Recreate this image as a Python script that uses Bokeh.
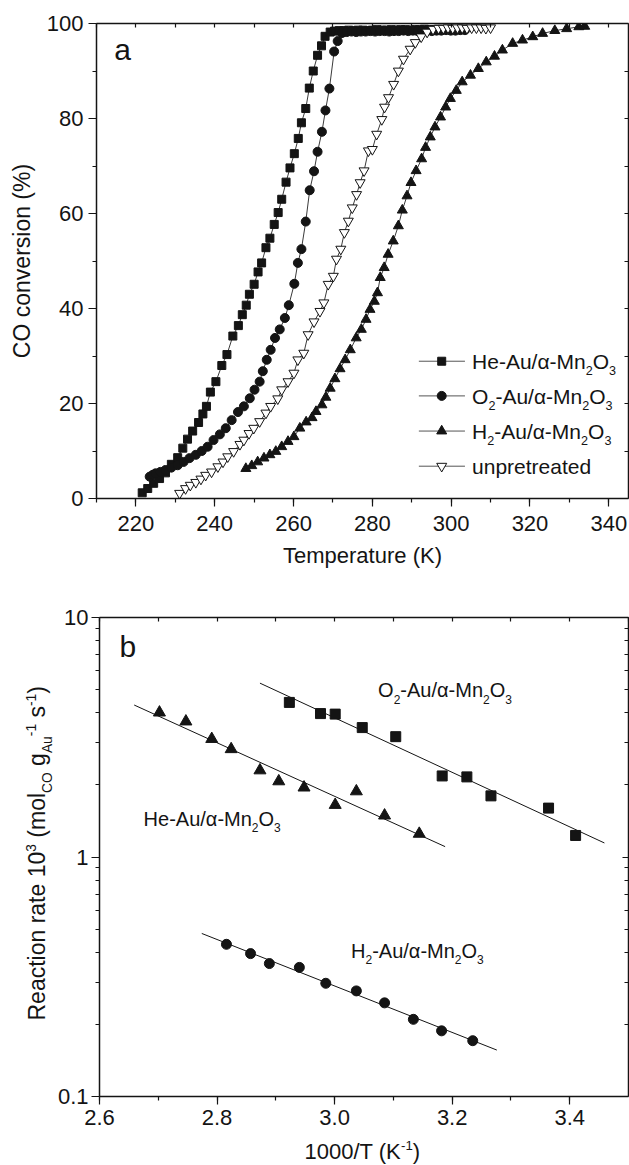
import numpy as np
from bokeh.plotting import figure
from bokeh.layouts import column, row
from bokeh.models import (Range1d, LinearAxis, LogAxis, SingleIntervalTicker, FixedTicker,
                          CustomJSTickFormatter, ColumnDataSource)
from bokeh.embed import file_html
from bokeh.resources import INLINE
from bokeh.core.properties import value

# ---------------- panel (a): CO conversion vs temperature ----------------
he_T = [221.6, 223.0, 224.5, 226.0, 227.5, 229.0, 230.6, 231.9, 233.1, 234.4, 235.9, 237.0,
        237.9, 238.9, 240.3, 241.8, 243.1, 244.6, 246.0, 247.0, 248.0, 248.8, 250.0, 251.0,
        251.9, 253.0, 254.0, 255.1, 256.1, 257.0, 258.1, 259.1, 260.2, 261.2, 262.0, 263.1,
        264.0, 265.0, 266.1, 267.1, 268.0, 269.3, 270.4, 271.6, 272.8, 274.0, 275.2, 276.4,
        277.6, 278.8, 280.0, 281.2, 282.4, 283.6, 284.8, 286.0, 287.2, 288.4, 289.6, 290.8,
        292.0, 293.2, 294.4, 295.6, 296.8, 298.0, 299.2]
he_C = [1.2, 2.1, 3.2, 4.2, 5.4, 7.2, 8.6, 10.6, 12.5, 14.2, 16.0, 17.8,
        19.4, 22.4, 24.6, 28.0, 30.3, 34.2, 36.4, 38.7, 40.7, 43.0, 45.1, 47.7,
        49.6, 52.8, 54.8, 57.7, 60.2, 63.0, 66.6, 69.6, 72.6, 75.8, 79.1, 82.1,
        86.4, 90.0, 93.3, 95.3, 97.3, 98.2, 98.4, 98.5, 98.5, 98.6, 98.5, 98.6,
        98.6, 98.5, 98.6, 98.7, 98.6, 98.6, 98.7, 98.6, 98.7, 98.7, 98.6, 98.7,
        98.7, 98.8, 98.7, 98.7, 98.8, 98.7, 98.8]

o2_T = [223.5, 224.3, 225.0, 226.2, 227.5, 229.0, 230.6, 232.1, 233.6, 235.2, 236.7, 238.2,
        239.7, 241.3, 242.8, 244.3, 245.9, 247.4, 248.9, 250.1, 251.4, 252.2, 253.2, 254.2,
        255.3, 256.5, 257.8, 258.8, 260.2, 261.1, 262.0, 263.1, 264.1, 265.2, 266.1, 267.2,
        268.1, 269.1, 270.3, 271.2, 272.3, 273.5, 274.7, 275.9, 277.1, 278.3, 279.5, 280.7,
        281.9, 283.1, 284.3, 285.5, 286.7, 287.9, 289.1, 290.3, 291.5, 292.7, 293.9, 295.1,
        296.3, 297.5, 298.7, 299.9, 301.1, 302.3, 303.5]
o2_C = [4.6, 5.0, 5.3, 5.6, 6.0, 6.5, 7.0, 7.7, 8.5, 9.2, 10.0, 10.9,
        12.3, 13.5, 14.8, 16.5, 18.2, 19.4, 21.1, 22.9, 24.6, 26.8, 29.2, 31.3,
        33.8, 35.6, 38.0, 40.7, 45.2, 49.6, 52.5, 58.3, 64.9, 68.9, 73.0, 77.2,
        81.7, 86.3, 94.1, 96.3, 98.0, 98.2, 98.3, 98.2, 98.3, 98.3, 98.4, 98.3,
        98.4, 98.4, 98.3, 98.4, 98.4, 98.5, 98.4, 98.5, 98.4, 98.5, 98.5, 98.4,
        98.5, 98.5, 98.6, 98.5, 98.5, 98.6, 98.6]

h2_T = [247.9, 249.4, 250.9, 252.5, 254.0, 255.5, 257.0, 258.6, 260.1, 261.6, 263.2, 264.7,
        265.7, 267.2, 268.2, 269.3, 270.5, 271.8, 273.1, 274.4, 275.9, 277.2, 278.4, 279.4,
        280.5, 281.3, 282.0, 283.0, 284.0, 285.3, 286.6, 287.6, 288.8, 289.8, 291.1, 292.5,
        293.5, 294.7, 295.9, 297.3, 298.6, 299.8, 301.3, 302.8, 304.9, 306.9, 308.9, 311.0,
        313.0, 315.6, 318.1, 320.7, 323.2, 326.3, 329.3, 332.4, 333.9]
h2_C = [6.3, 6.9, 7.7, 8.5, 9.2, 9.9, 10.9, 12.0, 13.0, 14.8, 16.1, 17.0,
        18.3, 19.7, 21.3, 23.2, 25.2, 27.3, 29.2, 31.3, 33.8, 35.6, 37.7, 39.8,
        41.5, 43.3, 46.5, 48.6, 51.4, 54.2, 57.4, 60.7, 63.7, 66.5, 69.0, 71.5,
        73.9, 76.1, 78.2, 80.3, 82.4, 84.2, 85.9, 87.7, 89.1, 90.5, 91.9, 93.1,
        94.4, 95.8, 96.5, 97.2, 97.9, 98.5, 98.9, 99.3, 99.4]

un_T = [231.1, 232.6, 233.8, 235.2, 236.5, 237.7, 239.2, 240.8, 242.1, 243.3, 244.8, 246.4,
        247.4, 248.7, 249.9, 251.4, 253.0, 254.2, 256.0, 257.0, 258.6, 260.1, 261.1, 262.6,
        263.7, 265.2, 266.7, 267.7, 268.8, 270.1, 270.9, 272.0, 272.9, 273.9, 274.9, 276.0,
        276.9, 277.9, 279.0, 280.0, 281.1, 282.4, 283.1, 284.1, 285.4, 286.6, 287.9, 289.6,
        290.9, 292.4, 293.9, 295.4, 296.8, 298.0, 299.2, 300.4, 301.6, 302.8, 304.0, 305.2,
        306.4, 307.6, 308.8, 310.0]
un_C = [1.1, 2.1, 2.8, 3.4, 4.1, 4.9, 5.6, 6.7, 7.7, 8.8, 9.9, 11.4,
        12.3, 13.7, 14.8, 16.2, 18.0, 19.4, 21.0, 22.9, 24.6, 26.4, 29.2, 30.6,
        34.5, 37.2, 39.4, 41.2, 45.1, 46.8, 50.4, 52.5, 56.0, 58.4, 61.2, 64.0,
        66.5, 69.0, 73.2, 73.5, 76.7, 79.8, 82.4, 84.4, 87.2, 90.0, 92.5, 94.6,
        96.0, 97.2, 98.2, 98.8, 99.0, 99.0, 99.1, 99.0, 99.1, 99.1, 99.0, 99.1,
        99.1, 99.1, 99.0, 99.1]

# ---------------- panel (b): Arrhenius data ----------------
o2_invT = [2.923, 2.976, 3.001, 3.047, 3.104, 3.183, 3.225, 3.266, 3.364, 3.410]
o2_rate = [4.42, 3.97, 3.95, 3.47, 3.18, 2.18, 2.16, 1.80, 1.60, 1.23]
he_invT = [2.702, 2.747, 2.791, 2.824, 2.873, 2.905, 2.948, 3.001, 3.037, 3.085, 3.144]
he_rate = [4.01, 3.68, 3.11, 2.82, 2.30, 2.07, 1.95, 1.65, 1.88, 1.49, 1.25]
h2_invT = [2.816, 2.857, 2.889, 2.940, 2.985, 3.037, 3.085, 3.134, 3.182, 3.235]
h2_rate = [0.432, 0.395, 0.359, 0.346, 0.297, 0.276, 0.246, 0.210, 0.188, 0.171]
# spans over which the fitted lines are drawn
o2_fit_span = [2.873, 3.459]
he_fit_span = [2.659, 3.188]
h2_fit_span = [2.774, 3.276]

FONT = "Liberation Sans"
INK = "#141414"
LINE = "#3a3a3a"

# Arial-compatible advance widths (1/1000 em) used to place sub/superscripts
ADV = {" ": 278, "(": 333, ")": 333, "-": 333, "/": 278, ".": 278, "%": 889,
       "A": 667, "C": 722, "H": 722, "K": 667, "M": 833, "O": 778, "R": 722, "T": 611,
       "a": 556, "c": 500, "e": 556, "g": 556, "i": 222, "l": 222, "m": 833, "n": 556,
       "o": 556, "p": 556, "r": 333, "s": 500, "t": 278, "u": 556, "d": 556, "α": 578}
for _d in "0123456789":
    ADV[_d] = 556

# the text glyph sits its baseline this fraction of an em below the anchor
BASE_DROP = 0.35


def _w(txt, fs):
    return sum(ADV.get(c, 556) for c in txt) * fs / 1000.0


def rich(parts, size, small=0.6):
    """Split a label into (text, advance, baseline shift, font size) pieces.
    Edge spaces become advances, since SVG text drops them."""
    pieces, pos = [], 0.0
    for txt, kind in parts:
        fs = size * small if kind else size
        shift = {"": 0.0, "sub": 0.30 * size, "sup": -0.42 * size}[kind]
        shift -= BASE_DROP * fs
        core = txt.strip(" ")
        lead = len(txt) - len(txt.lstrip(" "))
        trail = len(txt) - len(txt.rstrip(" "))
        pos += _w(" " * lead, fs)
        pieces.append((core, pos, shift, fs))
        pos += _w(core, fs) + _w(" " * trail, fs)
    return pieces, pos


def draw_rich(p, x, y, parts, size, dy0=0.0, rotated=False):
    """Draw a label with sub/superscripts as text pieces offset in screen pixels."""
    pieces, _ = rich(parts, size)
    if rotated:   # reads bottom-to-top; baseline shifts go sideways
        dx = [s for _, _, s, _ in pieces]
        dy = [-d for _, d, _, _ in pieces]
    else:
        dx = [d for _, d, _, _ in pieces]
        dy = [s + dy0 for _, _, s, _ in pieces]
    src = ColumnDataSource(dict(
        x=[x] * len(pieces), y=[y] * len(pieces),
        text=[t for t, _, _, _ in pieces], dx=dx, dy=dy,
        fs=["%.1fpx" % f for _, _, _, f in pieces]))
    p.text(x="x", y="y", text="text", x_offset="dx", y_offset="dy",
           text_font_size="fs", source=src, text_font=value(FONT), text_color=INK,
           text_baseline="alphabetic", text_align="left",
           angle=np.pi / 2 if rotated else 0.0)


def style_axis(ax, tick_out=8, minor_out=4, tick_in=0, minor_in=0, labels=True):
    ax.axis_line_color = INK
    ax.axis_line_width = 1.5
    ax.major_tick_line_color = INK
    ax.minor_tick_line_color = INK
    ax.major_tick_line_width = 1.2
    ax.minor_tick_line_width = 1.2
    ax.major_tick_out = tick_out
    ax.major_tick_in = tick_in
    ax.minor_tick_out = minor_out
    ax.minor_tick_in = minor_in
    ax.major_label_text_font = FONT
    ax.major_label_text_font_size = "22px"
    ax.major_label_text_color = INK
    if not labels:
        ax.formatter = CustomJSTickFormatter(code="return ''")
        ax.major_label_standoff = 0
    ax.axis_label_text_font = FONT
    ax.axis_label_text_font_size = "22px"
    ax.axis_label_text_font_style = "normal"
    ax.axis_label_text_color = INK


def base_fig(width, height, x_range, y_range, left, top, bottom, y_axis_type="linear"):
    p = figure(width=width, height=height, x_range=x_range, y_range=y_range,
               y_axis_type=y_axis_type, output_backend="svg", toolbar_location=None,
               min_border_left=left, min_border_right=1, min_border_top=top,
               min_border_bottom=bottom, frame_align=False)
    p.xgrid.visible = False
    p.ygrid.visible = False
    p.outline_line_color = None
    p.background_fill_color = "white"
    p.border_fill_color = "white"
    return p


def text_strip(width, height):
    """Axis-free strip whose data units are pixels, used for rich axis titles."""
    p = figure(width=width, height=height, x_range=Range1d(0, width),
               y_range=Range1d(0, height), output_backend="svg", toolbar_location=None,
               x_axis_location=None, y_axis_location=None, min_border=0,
               frame_align=False)
    p.xgrid.visible = False
    p.ygrid.visible = False
    p.outline_line_color = None
    p.border_fill_color = "white"
    return p


# ======================= panel (a) =======================
pa = base_fig(629, 580, Range1d(210, 345), Range1d(0, 100), 96, 23, 82)
xa, ya = pa.below[0], pa.left[0]
xa.ticker = SingleIntervalTicker(interval=20, num_minor_ticks=2)
ya.ticker = SingleIntervalTicker(interval=20, num_minor_ticks=2)
style_axis(xa)
style_axis(ya)
xa.axis_label = "Temperature (K)"
ya.axis_label = "CO conversion (%)"
ya.axis_label_text_font_size = "23px"
xa.major_label_standoff = 9
xa.axis_label_standoff = 9
ya.major_label_standoff = 5
ya.axis_label_standoff = 9

ta = LinearAxis(ticker=SingleIntervalTicker(interval=10, num_minor_ticks=0))
ra = LinearAxis(ticker=SingleIntervalTicker(interval=10, num_minor_ticks=0))
for ax in (ta, ra):
    style_axis(ax, tick_out=0, minor_out=0, tick_in=4, labels=False)
pa.add_layout(ta, "above")
pa.add_layout(ra, "right")

series_a = [
    (he_T, he_C, "square", 8, INK),
    (o2_T, o2_C, "circle", 9, INK),
    (h2_T, h2_C, "triangle", 10, INK),
    (un_T, un_C, "inverted_triangle", 10, "white"),
]
for T, C, mk, sz, fill in series_a:
    pa.line(T, C, line_color=LINE, line_width=1)
for T, C, mk, sz, fill in series_a:
    pa.scatter(T, C, marker=mk, size=sz, fill_color=fill, line_color=INK, line_width=1)

names = [
    [("He-Au/α-Mn", ""), ("2", "sub"), ("O", ""), ("3", "sub")],
    [("O", ""), ("2", "sub"), ("-Au/α-Mn", ""), ("2", "sub"), ("O", ""), ("3", "sub")],
    [("H", ""), ("2", "sub"), ("-Au/α-Mn", ""), ("2", "sub"), ("O", ""), ("3", "sub")],
    [("unpretreated", "")],
]
legend_rows = [28.9, 21.6, 14.2, 6.8]
for (T, C, mk, sz, fill), nm, yr in zip(series_a, names, legend_rows):
    pa.segment(x0=[291.8], y0=[yr], x1=[303.5], y1=[yr], line_color="#555555", line_width=1)
    pa.scatter([297.6], [yr], marker=mk, size=sz, fill_color=fill, line_color=INK, line_width=1)
    draw_rich(pa, 305.3, yr, nm, 21, dy0=7.5)

draw_rich(pa, 214.5, 92.3, [("a", "")], 30)

# ======================= panel (b) =======================
YLAB_W, B_H, XLAB_H = 54, 555, 30
pb = base_fig(629 - YLAB_W, B_H, Range1d(2.6, 3.5), Range1d(0.1, 10), 96 - YLAB_W, 37, 39,
              y_axis_type="log")
xb, yb = pb.below[0], pb.left[0]
xb.ticker = SingleIntervalTicker(interval=0.2, num_minor_ticks=2)
xb.formatter = CustomJSTickFormatter(code="return tick.toFixed(1)")
decades = [0.1, 1, 10]
minor = [m * d for d in (0.1, 1) for m in range(2, 10)]
yb.ticker = FixedTicker(ticks=decades, minor_ticks=minor)
yb.formatter = CustomJSTickFormatter(code="return tick.toString()")
style_axis(xb)
style_axis(yb)
xb.major_label_standoff = 5
yb.major_label_standoff = 3

tb = LinearAxis(ticker=SingleIntervalTicker(interval=0.1, num_minor_ticks=0))
rb = LogAxis(ticker=FixedTicker(ticks=decades, minor_ticks=minor))
style_axis(tb, tick_out=0, minor_out=0, tick_in=4, labels=False)
style_axis(rb, tick_out=0, minor_out=0, tick_in=6, minor_in=4, labels=False)
pb.add_layout(tb, "above")
pb.add_layout(rb, "right")

series_b = [
    (o2_invT, o2_rate, o2_fit_span, "square", 10),
    (he_invT, he_rate, he_fit_span, "triangle", 12),
    (h2_invT, h2_rate, h2_fit_span, "circle", 10),
]
for xs, rs, span, mk, sz in series_b:
    slope, icpt = np.polyfit(xs, np.log10(rs), 1)
    fx = np.array(span)
    pb.line(fx, 10 ** (slope * fx + icpt), line_color=INK, line_width=1)
    pb.scatter(xs, rs, marker=mk, size=sz, fill_color=INK, line_color=INK)

draw_rich(pb, 3.074, 4.64, [("O", ""), ("2", "sub"), ("-Au/α-Mn", ""), ("2", "sub"),
                            ("O", ""), ("3", "sub")], 20)
draw_rich(pb, 2.675, 1.35, [("He-Au/α-Mn", ""), ("2", "sub"), ("O", ""), ("3", "sub")], 20)
draw_rich(pb, 3.028, 0.378, [("H", ""), ("2", "sub"), ("-Au/α-Mn", ""), ("2", "sub"),
                             ("O", ""), ("3", "sub")], 20)
draw_rich(pb, 2.634, 6.85, [("b", "")], 30)

# rich axis titles of panel (b), drawn in pixel-unit strips beside and below it
ylab = text_strip(YLAB_W, B_H)
draw_rich(ylab, 45, 115, [("Reaction rate 10", ""), ("3", "sup"), (" (mol", ""),
                          ("CO", "sub"), (" g", ""), ("Au", "sub"), ("-1", "sup"),
                          (" s", ""), ("-1", "sup"), (")", "")], 23, rotated=True)
xlab = text_strip(629, XLAB_H)
draw_rich(xlab, 304, 6, [("1000/T (K", ""), ("-1", "sup"), (")", "")], 22)

layout = column(pa, row(ylab, pb, spacing=0), xlab, spacing=0)
open("out.html", "w").write(file_html(layout, INLINE))
